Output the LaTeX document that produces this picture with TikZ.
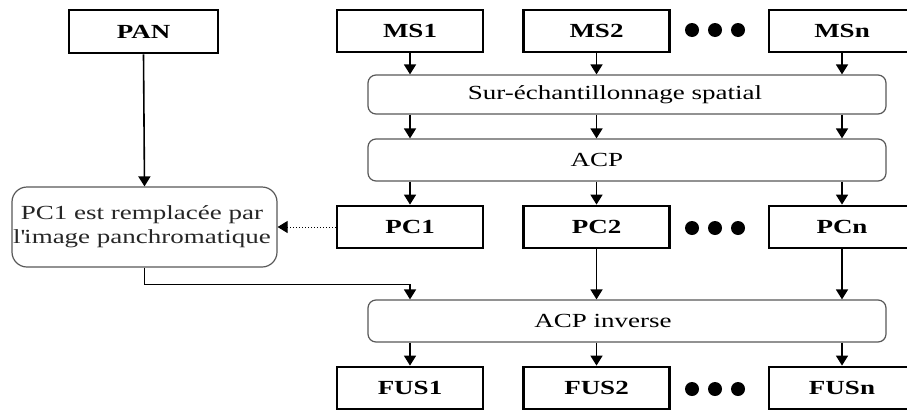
\documentclass[tikz,border=0pt]{standalone}
\usepackage{fontspec}
\setmainfont[FakeStretch=1.35]{Liberation Serif}
\usetikzlibrary{arrows.meta}
\begin{document}
\begin{tikzpicture}[x=1pt,y=-1pt,
  lbl/.style={draw,line width=2.8pt,minimum width=146pt,minimum height=42pt,inner sep=0pt,font=\fontsize{20}{22}\selectfont\bfseries},
  rbox/.style={draw=black!65,line width=1.2pt,rounded corners=8pt,inner sep=0pt},
  txt/.style={font=\fontsize{20}{24}\selectfont,inner sep=0pt},
  arr/.style={line width=1.6pt,-{Triangle[length=10pt,width=12pt]}},
  dot/.style={circle,fill=black,minimum size=14pt,inner sep=0pt}]
\useasboundingbox (0,0) rectangle (907,410);
\fill[white] (0,0) rectangle (907,410);
% top row
\node[lbl,minimum width=149pt,minimum height=43pt] (pan) at (143.5,31.5) {PAN};
\node[lbl] (ms1) at (410,31) {MS1};
\node[lbl] (ms2) at (596.5,31) {MS2};
\node[lbl] (msn) at (842,31) {MSn};
\node[dot] (d1a) at (692,30) {};
\node[dot] (d1b) at (715,30) {};
\node[dot] (d1c) at (738,30) {};
% processing boxes
\node[rbox,minimum width=518pt,minimum height=39pt] (sur) at (627,94.5) {};
\node[txt] (surt) at (615,94.5) {Sur-échantillonnage spatial};
\node[rbox,minimum width=518pt,minimum height=42pt] (acp) at (627,160) {};
\node[txt] (acpt) at (597,160) {ACP};
% PC row
\node[lbl] (pc1) at (410,227) {PC1};
\node[lbl] (pc2) at (596.5,227) {PC2};
\node[lbl] (pcn) at (842,227) {PCn};
\node[dot] (d2a) at (692,228) {};
\node[dot] (d2b) at (715,228) {};
\node[dot] (d2c) at (738,228) {};
\node[rbox,rounded corners=15pt,minimum width=265pt,minimum height=80pt] (rep) at (144.5,227) {};
\node[txt,align=center,text=black!85] (rept) at (142,227) {PC1 est remplacée par\\l\textquotesingle image panchromatique};
% inverse
\node[rbox,minimum width=518pt,minimum height=42pt] (inv) at (627,321) {};
\node[txt] (invt) at (603,321) {ACP inverse};
% FUS row
\node[lbl] (fus1) at (410,388) {FUS1};
\node[lbl] (fus2) at (596.5,388) {FUS2};
\node[lbl] (fusn) at (842,388) {FUSn};
\node[dot] (d3a) at (692,389) {};
\node[dot] (d3b) at (715,389) {};
\node[dot] (d3c) at (738,389) {};
% arrows
\foreach \c in {ms1,ms2,msn}{\draw[arr] (\c.south) -- (\c.south |- sur.north);}
\foreach \c in {ms1,ms2,msn}{\draw[arr] (\c.south |- sur.south) -- (\c.south |- acp.north);}
\foreach \c in {pc1,pc2,pcn}{\draw[arr] (\c.north |- acp.south) -- (\c.north);}
\foreach \c in {pc2,pcn}{\draw[arr] (\c.south) -- (\c.south |- inv.north);}
\foreach \c in {fus1,fus2,fusn}{\draw[arr] (\c.north |- inv.south) -- (\c.north);}
\draw[arr] (pan.south) -- (rep.north);
\draw[line width=1pt,dotted,-{Triangle[length=10pt,width=12pt]}] (pc1.west) -- (rep.east);
\coordinate (bend) at ([yshift=-17pt]rep.south);
\draw[arr] (rep.south) -- (bend) -- (bend -| fus1.north) -- (fus1.north |- inv.north);
\end{tikzpicture}
\end{document}
